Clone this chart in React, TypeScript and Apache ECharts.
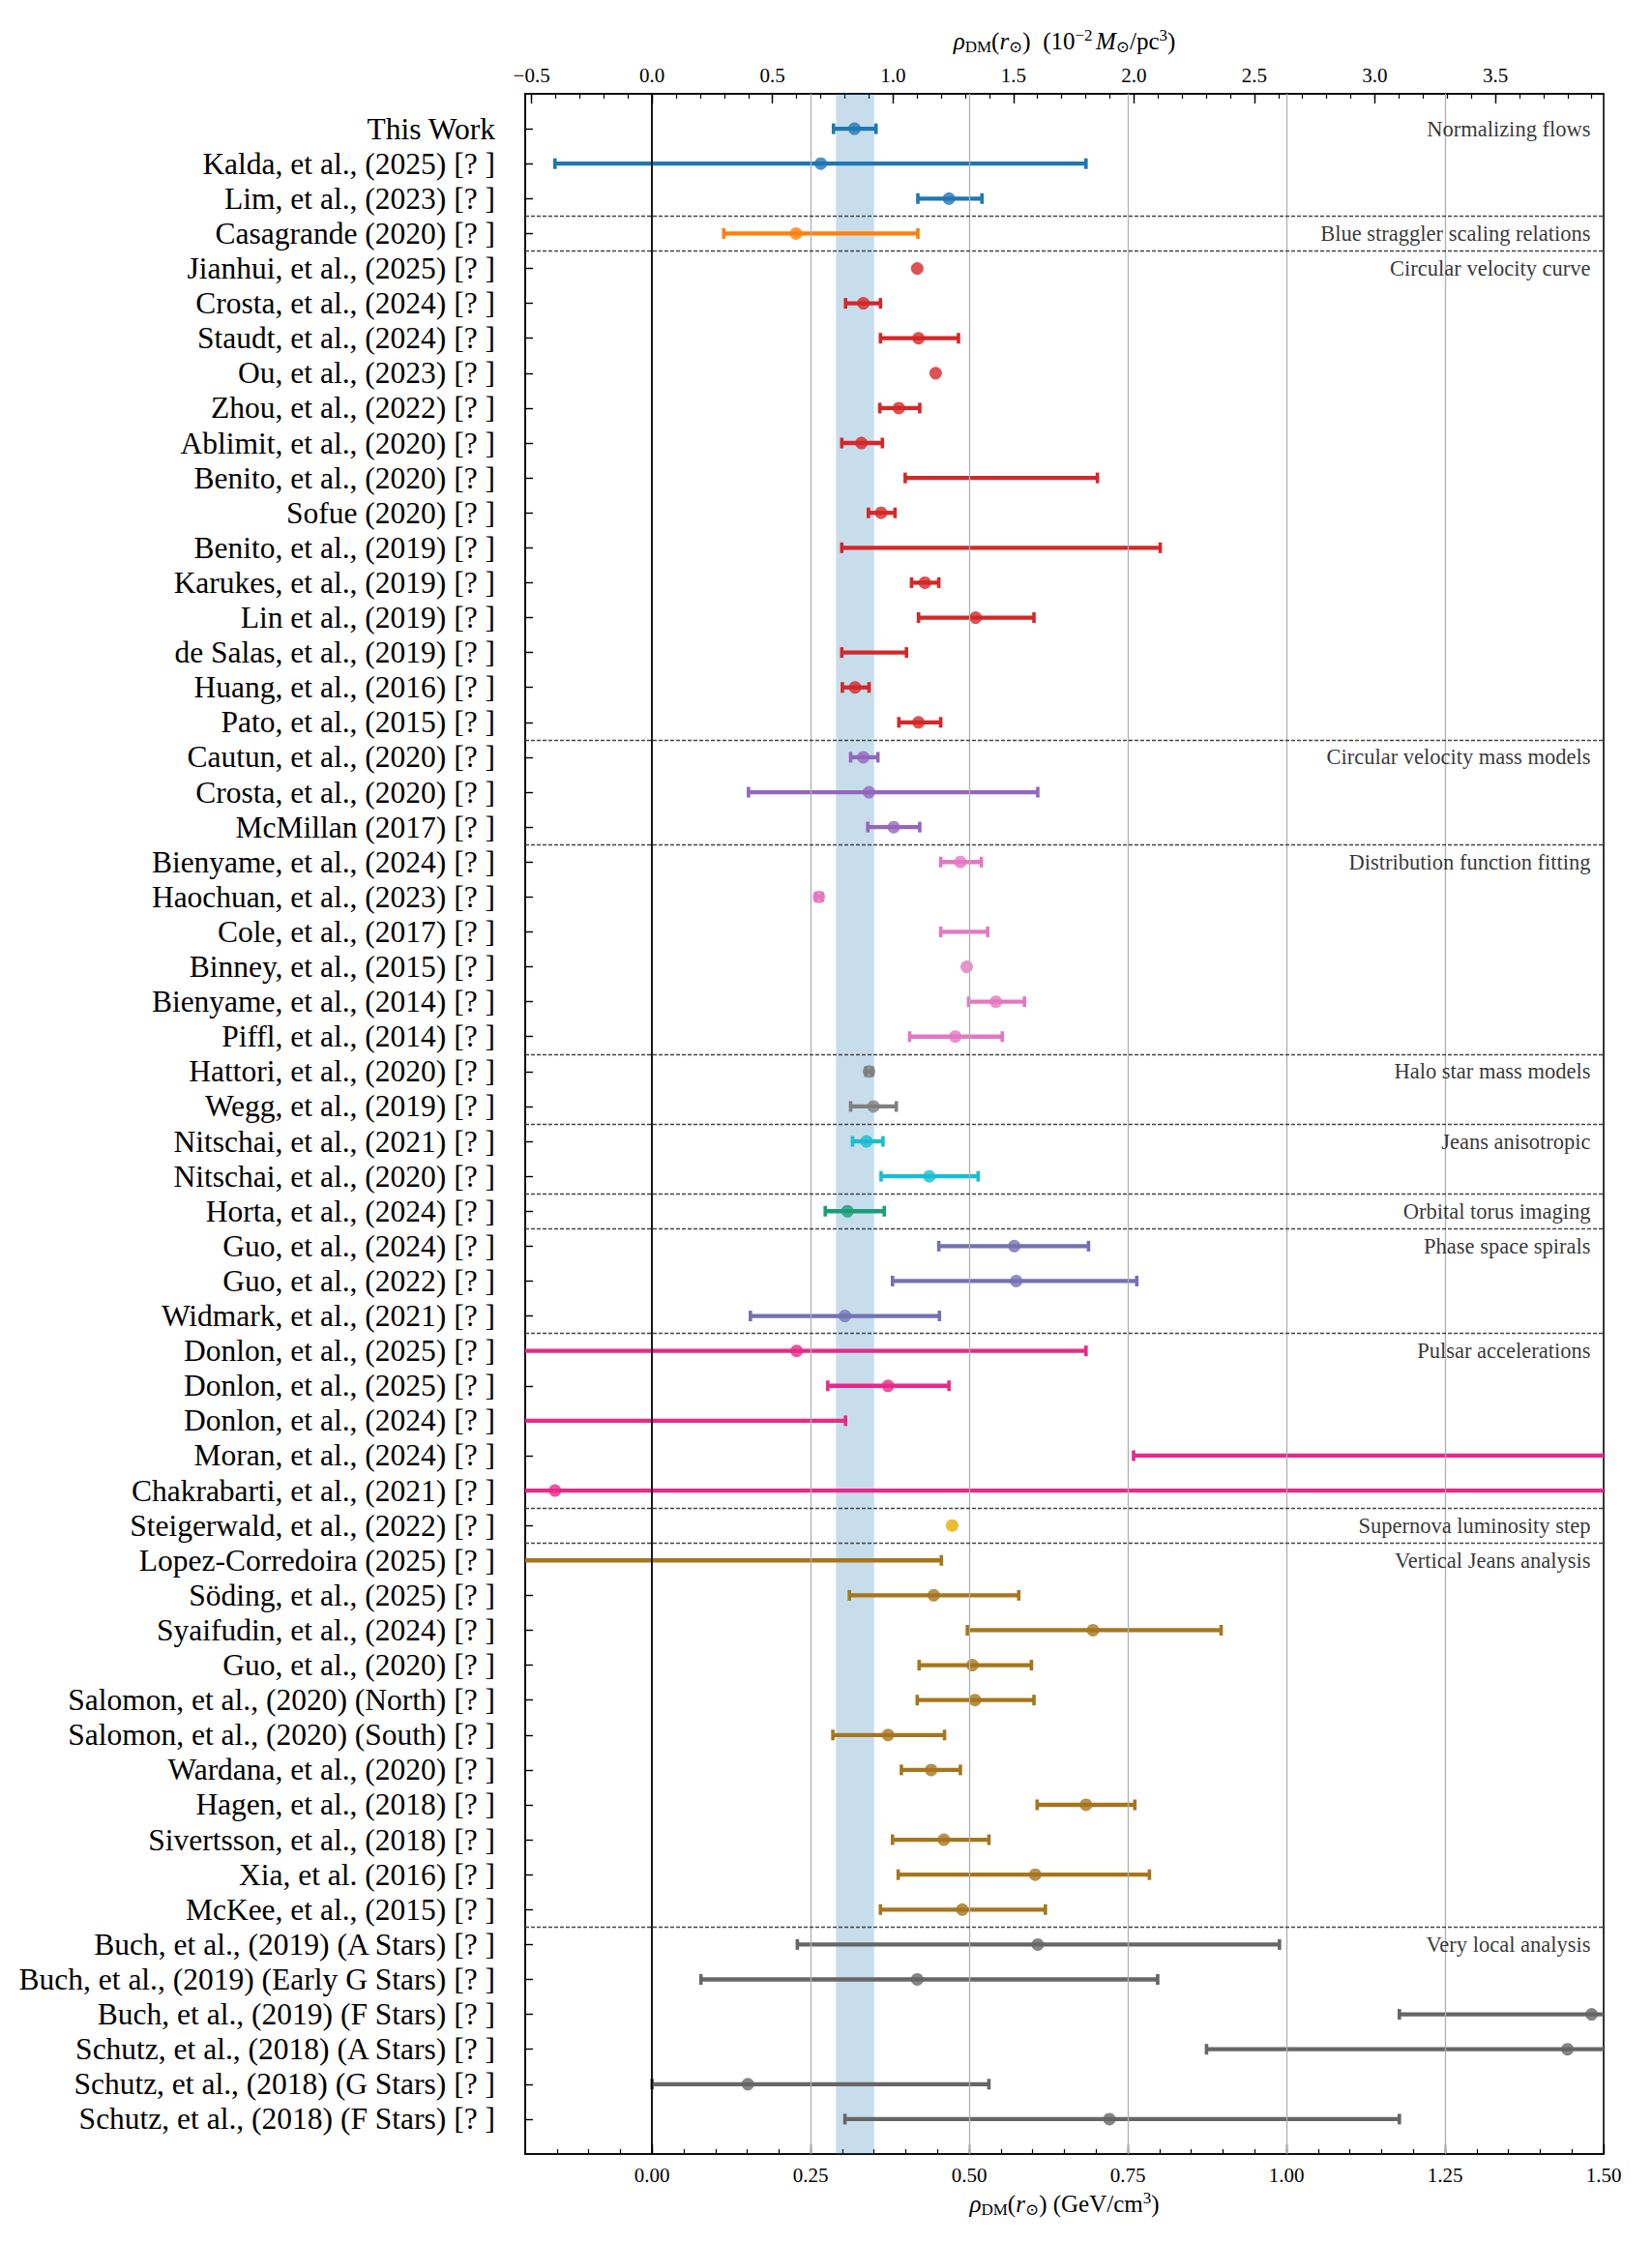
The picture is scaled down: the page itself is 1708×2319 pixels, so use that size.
import React, { useEffect, useRef } from 'react';
import * as echarts from 'echarts';

// ---------------- data ----------------
const studies: string[] = [
  'This Work',
  'Kalda, et al., (2025) [? ]',
  'Lim, et al., (2023) [? ]',
  'Casagrande (2020) [? ]',
  'Jianhui, et al., (2025) [? ]',
  'Crosta, et al., (2024) [? ]',
  'Staudt, et al., (2024) [? ]',
  'Ou, et al., (2023) [? ]',
  'Zhou, et al., (2022) [? ]',
  'Ablimit, et al., (2020) [? ]',
  'Benito, et al., (2020) [? ]',
  'Sofue (2020) [? ]',
  'Benito, et al., (2019) [? ]',
  'Karukes, et al., (2019) [? ]',
  'Lin et al., (2019) [? ]',
  'de Salas, et al., (2019) [? ]',
  'Huang, et al., (2016) [? ]',
  'Pato, et al., (2015) [? ]',
  'Cautun, et al., (2020) [? ]',
  'Crosta, et al., (2020) [? ]',
  'McMillan (2017) [? ]',
  'Bienyame, et al., (2024) [? ]',
  'Haochuan, et al., (2023) [? ]',
  'Cole, et al., (2017) [? ]',
  'Binney, et al., (2015) [? ]',
  'Bienyame, et al., (2014) [? ]',
  'Piffl, et al., (2014) [? ]',
  'Hattori, et al., (2020) [? ]',
  'Wegg, et al., (2019) [? ]',
  'Nitschai, et al., (2021) [? ]',
  'Nitschai, et al., (2020) [? ]',
  'Horta, et al., (2024) [? ]',
  'Guo, et al., (2024) [? ]',
  'Guo, et al., (2022) [? ]',
  'Widmark, et al., (2021) [? ]',
  'Donlon, et al., (2025) [? ]',
  'Donlon, et al., (2025) [? ]',
  'Donlon, et al., (2024) [? ]',
  'Moran, et al., (2024) [? ]',
  'Chakrabarti, et al., (2021) [? ]',
  'Steigerwald, et al., (2022) [? ]',
  'Lopez-Corredoira (2025) [? ]',
  'Söding, et al., (2025) [? ]',
  'Syaifudin, et al., (2024) [? ]',
  'Guo, et al., (2020) [? ]',
  'Salomon, et al., (2020) (North) [? ]',
  'Salomon, et al., (2020) (South) [? ]',
  'Wardana, et al., (2020) [? ]',
  'Hagen, et al., (2018) [? ]',
  'Sivertsson, et al., (2018) [? ]',
  'Xia, et al. (2016) [? ]',
  'McKee, et al., (2015) [? ]',
  'Buch, et al., (2019) (A Stars) [? ]',
  'Buch, et al., (2019) (Early G Stars) [? ]',
  'Buch, et al., (2019) (F Stars) [? ]',
  'Schutz, et al., (2018) (A Stars) [? ]',
  'Schutz, et al., (2018) (G Stars) [? ]',
  'Schutz, et al., (2018) (F Stars) [? ]',
];

// central values (GeV/cm^3); null = no central point drawn
const centers: (number | null)[] = [
  0.319, 0.266, 0.468,
  0.227,
  0.418, 0.333, 0.420, 0.447, 0.389, 0.330, null, 0.361, null, 0.430, 0.510, null, 0.320, 0.420,
  0.333, 0.342, 0.381,
  0.486, 0.263, null, 0.496, 0.542, 0.478,
  0.342, 0.349,
  0.338, 0.437,
  0.308,
  0.571, 0.574, 0.304,
  0.228, 0.372, null, null, -0.153,
  0.473,
  null, 0.444, 0.695, 0.505, 0.509, 0.372, 0.440, 0.684, 0.460, 0.604, 0.489,
  0.608, 0.418, 1.481, 1.443, 0.151, 0.721,
];

// lower error-bar ends; null = no error bar
const lows: (number | null)[] = [
  0.286, -0.153, 0.419,
  0.113,
  null, 0.305, 0.360, null, 0.359, 0.299, 0.399, 0.341, 0.299, 0.409, 0.420, 0.299, 0.300, 0.389,
  0.313, 0.152, 0.340,
  0.455, 0.258, 0.455, null, 0.499, 0.406,
  0.337, 0.313,
  0.316, 0.361,
  0.273,
  0.452, 0.379, 0.155,
  -0.6, 0.277, -0.6, 0.759, -0.6,
  null,
  -0.6, 0.311, 0.497, 0.421, 0.418, 0.285, 0.393, 0.607, 0.379, 0.388, 0.360,
  0.229, 0.077, 1.178, 0.874, 0.0, 0.304,
];

// upper error-bar ends
const highs: (number | null)[] = [
  0.353, 0.684, 0.520,
  0.419,
  null, 0.360, 0.483, null, 0.422, 0.363, 0.702, 0.383, 0.801, 0.452, 0.602, 0.401, 0.342, 0.455,
  0.356, 0.608, 0.422,
  0.519, 0.268, 0.529, null, 0.587, 0.552,
  0.347, 0.385,
  0.364, 0.514,
  0.366,
  0.688, 0.764, 0.453,
  0.684, 0.468, 0.305, 2.0, 2.0,
  null,
  0.456, 0.578, 0.897, 0.598, 0.602, 0.461, 0.486, 0.761, 0.531, 0.784, 0.620,
  0.989, 0.797, 1.8, 2.0, 0.531, 1.178,
];

const groupOf: number[] = [
  0, 0, 0,
  1,
  2, 2, 2, 2, 2, 2, 2, 2, 2, 2, 2, 2, 2, 2,
  3, 3, 3,
  4, 4, 4, 4, 4, 4,
  5, 5,
  6, 6,
  7,
  8, 8, 8,
  9, 9, 9, 9, 9,
  10,
  11, 11, 11, 11, 11, 11, 11, 11, 11, 11, 11,
  12, 12, 12, 12, 12, 12,
];

const groupNames: string[] = [
  'Normalizing flows',
  'Blue straggler scaling relations',
  'Circular velocity curve',
  'Circular velocity mass models',
  'Distribution function fitting',
  'Halo star mass models',
  'Jeans anisotropic',
  'Orbital torus imaging',
  'Phase space spirals',
  'Pulsar accelerations',
  'Supernova luminosity step',
  'Vertical Jeans analysis',
  'Very local analysis',
];

const groupColors: string[] = [
  '#1f77b4', '#ff7f0e', '#d62728', '#9467bd', '#e377c2', '#7f7f7f', '#17becf',
  '#1b9e77', '#7570b3', '#e7298a', '#e6ab02', '#a6761d', '#666666',
];

const bandRange = [0.29, 0.35];
const bottomTicks = [0, 0.25, 0.5, 0.75, 1.0, 1.25, 1.5];
const topTicks = [-0.5, 0, 0.5, 1.0, 1.5, 2.0, 2.5, 3.0, 3.5];
const gridLines = [0.25, 0.5, 0.75, 1.0, 1.25];
const GEV_TO_1E2_MSUN_PC3 = 2.633;
const XMIN = -0.2;
const XMAX = 1.5;

const SERIF = '"Liberation Serif", "DejaVu Serif", serif';

function steps(from: number, to: number, step: number): number[] {
  const out: number[] = [];
  const n = Math.round((to - from) / step);
  for (let i = 0; i <= n; i++) out.push(+(from + i * step).toFixed(6));
  return out;
}

export default function App() {
  const ref = useRef<HTMLDivElement>(null);

  useEffect(() => {
    document.body.style.margin = '0';
    if (!ref.current) return;
    const chart = echarts.init(ref.current, undefined, { renderer: 'svg' });

    const nRows = studies.length;
    const rows = studies.map((_, i) => i);
    const bottomMinor = steps(-0.15, 1.45, 0.05);
    const topMin = XMIN * GEV_TO_1E2_MSUN_PC3;
    const topMax = XMAX * GEV_TO_1E2_MSUN_PC3;
    const topMinor = steps(-0.5, 3.9, 0.1);

    const separators: number[] = [];
    const groupFirst: number[] = [];
    groupOf.forEach((g, i) => {
      if (i === 0 || g !== groupOf[i - 1]) {
        groupFirst.push(i);
        if (i > 0) separators.push(i - 0.5);
      }
    });

    const errData: any[] = [];
    rows.forEach((i) => {
      if (lows[i] !== null && highs[i] !== null) errData.push({ value: [i, lows[i], highs[i]] });
    });
    const ptData: any[] = [];
    rows.forEach((i) => {
      if (centers[i] !== null)
        ptData.push({ value: [centers[i], i], itemStyle: { color: groupColors[groupOf[i]] } });
    });

    const rich = {
      i: { fontFamily: SERIF, fontSize: 25, fontStyle: 'italic', color: '#000' },
      n: { fontFamily: SERIF, fontSize: 25, color: '#000' },
      s: { fontFamily: SERIF, fontSize: 17, color: '#000', padding: [12, 0, 0, 0] },
      p: { fontFamily: SERIF, fontSize: 17, color: '#000', padding: [0, 0, 12, 0] },
    };

    const axisLabelStyle = { fontFamily: SERIF, fontSize: 21, color: '#000' };

    chart.setOption({
      animation: false,
      grid: {
        left: 543, right: 50, top: 97, bottom: 92,
        show: true, borderColor: '#000', borderWidth: 1.6, backgroundColor: 'transparent',
      },
      xAxis: [
        {
          type: 'value', min: XMIN, max: XMAX, position: 'bottom',
          axisLine: { show: true, onZero: false, lineStyle: { color: '#000', width: 1.6 } },
          axisTick: { show: true, inside: true, length: 10, customValues: bottomTicks, lineStyle: { color: '#000', width: 1.4 } },
          axisLabel: { show: true, customValues: bottomTicks, margin: 11, formatter: (v: number) => v.toFixed(2), ...axisLabelStyle },
          splitLine: { show: false },
          name: '{i|ρ}{s|DM}{n|(}{i|r}{s|⊙}{n|) (GeV/cm}{p|3}{n|)}',
          nameLocation: 'middle', nameGap: 33,
          nameTextStyle: { rich },
        },
        {
          type: 'value', min: XMIN, max: XMAX, position: 'bottom',
          axisLine: { show: false, onZero: false },
          axisTick: { show: true, inside: true, length: 5, customValues: bottomMinor, lineStyle: { color: '#000', width: 1.2 } },
          axisLabel: { show: false, customValues: bottomMinor },
          splitLine: { show: false },
        },
        {
          type: 'value', min: topMin, max: topMax, position: 'top',
          axisLine: { show: true, onZero: false, lineStyle: { color: '#000', width: 1.6 } },
          axisTick: { show: true, inside: true, length: 10, customValues: topTicks, lineStyle: { color: '#000', width: 1.4 } },
          axisLabel: {
            show: true, customValues: topTicks, margin: 9,
            formatter: (v: number) => (v < 0 ? '\u2212' + Math.abs(v).toFixed(1) : v.toFixed(1)),
            ...axisLabelStyle,
          },
          splitLine: { show: false },
          name: '{i|ρ}{s|DM}{n|(}{i|r}{s|⊙}{n|)  (10}{p|−2} {i|M}{s|⊙}{n|/pc}{p|3}{n|)}',
          nameLocation: 'middle', nameGap: 40,
          nameTextStyle: { rich },
        },
        {
          type: 'value', min: topMin, max: topMax, position: 'top',
          axisLine: { show: false, onZero: false },
          axisTick: { show: true, inside: true, length: 5, customValues: topMinor, lineStyle: { color: '#000', width: 1.2 } },
          axisLabel: { show: false, customValues: topMinor },
          splitLine: { show: false },
        },
      ],
      yAxis: {
        type: 'value', min: -1, max: nRows, inverse: true,
        axisLine: { show: true, onZero: false, lineStyle: { color: '#000', width: 1.6 } },
        axisTick: { show: true, inside: true, length: 8, customValues: rows, lineStyle: { color: '#000', width: 1.4 } },
        axisLabel: {
          show: true, customValues: rows, margin: 31,
          formatter: (v: number) => studies[Math.round(v)] ?? '',
          fontFamily: SERIF, fontSize: 31.5, color: '#000',
        },
        splitLine: { show: false },
      },
      series: [
        {
          type: 'scatter', xAxisIndex: 0, yAxisIndex: 0, data: [], z: 1, silent: true,
          markArea: {
            silent: true,
            itemStyle: { color: 'rgba(31,119,180,0.25)' },
            data: [[{ xAxis: bandRange[0] }, { xAxis: bandRange[1] }]],
          },
          markLine: {
            silent: true, symbol: ['none', 'none'], label: { show: false },
            data: [
              ...gridLines.map((x) => ({ xAxis: x, lineStyle: { color: '#b0b0b0', width: 1.3, type: 'solid' } })),
              { xAxis: 0, lineStyle: { color: '#000', width: 1.8, type: 'solid' } },
              ...separators.map((y) => ({ yAxis: y, lineStyle: { color: '#444', width: 1.4, type: [4, 2] } })),
            ],
          },
        },
        {
          type: 'custom', xAxisIndex: 0, yAxisIndex: 0, z: 3, clip: true, silent: true,
          encode: { x: [1, 2], y: 0 },
          data: errData,
          renderItem: (params: any, api: any) => {
            const row = api.value(0);
            const lo = api.value(1);
            const hi = api.value(2);
            const a = api.coord([lo, row]);
            const b = api.coord([hi, row]);
            const color = groupColors[groupOf[row]];
            const cap = 5.5;
            return {
              type: 'group',
              children: [
                { type: 'line', shape: { x1: a[0], y1: a[1], x2: b[0], y2: b[1] }, style: { stroke: color, lineWidth: 4.3 } },
                { type: 'line', shape: { x1: a[0], y1: a[1] - cap, x2: a[0], y2: a[1] + cap }, style: { stroke: color, lineWidth: 3.6 } },
                { type: 'line', shape: { x1: b[0], y1: b[1] - cap, x2: b[0], y2: b[1] + cap }, style: { stroke: color, lineWidth: 3.6 } },
              ],
            };
          },
        },
        {
          type: 'scatter', xAxisIndex: 0, yAxisIndex: 0, z: 4, clip: true, silent: true,
          symbol: 'circle', symbolSize: 13,
          data: ptData,
        },
        {
          type: 'scatter', xAxisIndex: 0, yAxisIndex: 0, z: 5, clip: false, silent: true,
          symbolSize: 1, itemStyle: { color: 'rgba(0,0,0,0)' },
          data: groupFirst.map((r, gi) => ({ value: [XMAX, r], name: groupNames[gi] })),
          label: {
            show: true, position: 'left', distance: 13,
            formatter: (p: any) => p.name,
            fontFamily: SERIF, fontSize: 22.5, color: '#000',
          },
        },
      ],
    });

    return () => chart.dispose();
  }, []);

  return <div ref={ref} style={{ width: 1708, height: 2319 }} />;
}
